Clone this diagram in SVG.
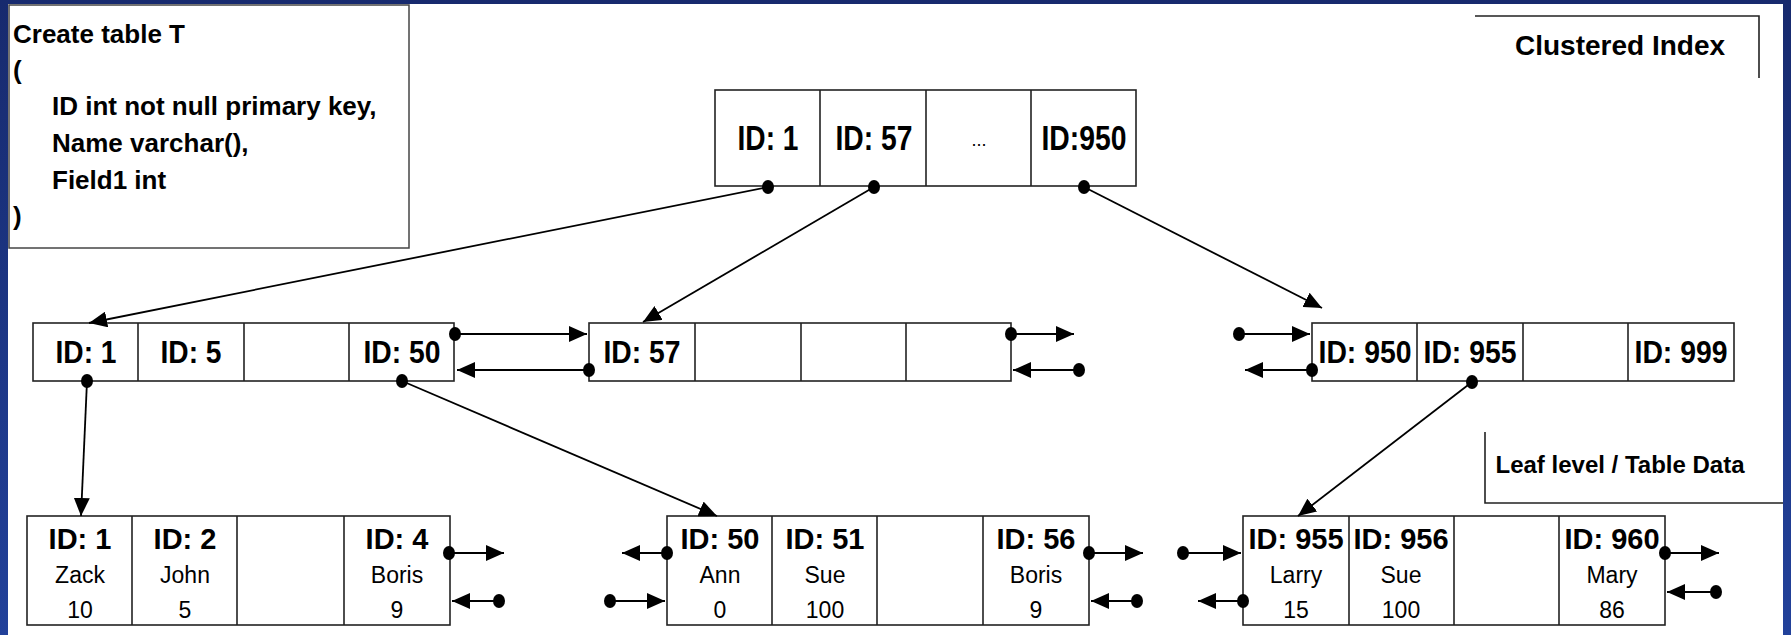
<svg xmlns="http://www.w3.org/2000/svg" width="1791" height="635" viewBox="0 0 1791 635">
<defs>
<linearGradient id="bg" x1="0" y1="0" x2="0" y2="1">
<stop offset="0" stop-color="#172a6e"/>
<stop offset="1" stop-color="#22419a"/>
</linearGradient>
<marker id="arr" markerUnits="userSpaceOnUse" markerWidth="18" markerHeight="16" refX="18" refY="8" orient="auto">
<path d="M0,0 L18,8 L0,16 z" fill="#000"/>
</marker>
<marker id="dot" markerUnits="userSpaceOnUse" markerWidth="14" markerHeight="16" refX="7" refY="8">
<ellipse cx="7" cy="8" rx="6" ry="7" fill="#000"/>
</marker>
</defs>
<style>
.box{fill:#fff;stroke:#222;stroke-width:1.6}
.div{stroke:#222;stroke-width:1.6}
.t{font-family:"Liberation Sans",Arial,sans-serif;fill:#000}
.b{font-weight:bold}
.m{text-anchor:middle}
.r35{font-size:35px;font-weight:bold;text-anchor:middle}
.r32{font-size:32px;font-weight:bold;text-anchor:middle}
.l29{font-size:29px;font-weight:bold;text-anchor:middle}
.v{font-size:23px;text-anchor:middle}
.c{fill:none;stroke:#000;stroke-width:1.8;marker-start:url(#dot);marker-end:url(#arr)}
</style>
<rect x="0" y="0" width="1791" height="635" fill="url(#bg)"/>
<rect x="8" y="4" width="1775" height="631" fill="#fff"/>

<g id="sql">
<rect x="9" y="5" width="400" height="243" fill="#fff" stroke="#444" stroke-width="1.5"/>
<text class="t b" font-size="26" x="13" y="43">Create table T</text>
<text class="t b" font-size="26" x="13" y="79">(</text>
<text class="t b" font-size="26" x="52" y="115">ID int not null primary key,</text>
<text class="t b" font-size="26" x="52" y="152">Name varchar(),</text>
<text class="t b" font-size="26" x="52" y="189">Field1 int</text>
<text class="t b" font-size="26" x="13" y="225">)</text>
</g>

<g id="clustered-label">
<path d="M1475,16 H1759 V78" fill="none" stroke="#222" stroke-width="1.6"/>
<text class="t b m" font-size="28" x="1620" y="55">Clustered Index</text>
</g>

<g id="leaf-label">
<path d="M1485,432 V503 H1783" fill="none" stroke="#222" stroke-width="1.6"/>
<text class="t b m" font-size="24" x="1620" y="473">Leaf level / Table Data</text>
</g>

<g id="root">
<rect class="box" x="715" y="90" width="421" height="96"/>
<path class="div" d="M820,90 V186 M926,90 V186 M1031,90 V186"/>
<text class="t r35" x="768" y="150" textLength="61" lengthAdjust="spacingAndGlyphs">ID: 1</text>
<text class="t r35" x="874" y="150" textLength="77" lengthAdjust="spacingAndGlyphs">ID: 57</text>
<text class="t m" font-size="18" x="979" y="146" fill="#333">...</text>
<text class="t r35" x="1084" y="150" textLength="85" lengthAdjust="spacingAndGlyphs">ID:950</text>
</g>

<g id="index-a">
<rect class="box" x="33" y="323" width="421" height="58"/>
<path class="div" d="M138,323 V381 M244,323 V381 M349,323 V381"/>
<text class="t r32" x="86" y="363" textLength="61" lengthAdjust="spacingAndGlyphs">ID: 1</text>
<text class="t r32" x="191" y="363" textLength="61" lengthAdjust="spacingAndGlyphs">ID: 5</text>
<text class="t r32" x="402" y="363" textLength="77" lengthAdjust="spacingAndGlyphs">ID: 50</text>
</g>

<g id="index-b">
<rect class="box" x="589" y="323" width="422" height="58"/>
<path class="div" d="M695,323 V381 M801,323 V381 M906,323 V381"/>
<text class="t r32" x="642" y="363" textLength="77" lengthAdjust="spacingAndGlyphs">ID: 57</text>
</g>

<g id="index-c">
<rect class="box" x="1312" y="323" width="422" height="58"/>
<path class="div" d="M1417,323 V381 M1523,323 V381 M1628,323 V381"/>
<text class="t r32" x="1365" y="363" textLength="93" lengthAdjust="spacingAndGlyphs">ID: 950</text>
<text class="t r32" x="1470" y="363" textLength="93" lengthAdjust="spacingAndGlyphs">ID: 955</text>
<text class="t r32" x="1681" y="363" textLength="93" lengthAdjust="spacingAndGlyphs">ID: 999</text>
</g>

<g id="leaf-1">
<rect class="box" x="27" y="516" width="423" height="109"/>
<path class="div" d="M132,516 V625 M237,516 V625 M344,516 V625"/>
<text class="t l29" x="80" y="549">ID: 1</text>
<text class="t v" x="80" y="583">Zack</text>
<text class="t v" x="80" y="618">10</text>
<text class="t l29" x="185" y="549">ID: 2</text>
<text class="t v" x="185" y="583">John</text>
<text class="t v" x="185" y="618">5</text>
<text class="t l29" x="397" y="549">ID: 4</text>
<text class="t v" x="397" y="583">Boris</text>
<text class="t v" x="397" y="618">9</text>
</g>

<g id="leaf-2">
<rect class="box" x="667" y="516" width="422" height="109"/>
<path class="div" d="M772,516 V625 M877,516 V625 M983,516 V625"/>
<text class="t l29" x="720" y="549">ID: 50</text>
<text class="t v" x="720" y="583">Ann</text>
<text class="t v" x="720" y="618">0</text>
<text class="t l29" x="825" y="549">ID: 51</text>
<text class="t v" x="825" y="583">Sue</text>
<text class="t v" x="825" y="618">100</text>
<text class="t l29" x="1036" y="549">ID: 56</text>
<text class="t v" x="1036" y="583">Boris</text>
<text class="t v" x="1036" y="618">9</text>
</g>

<g id="leaf-3">
<rect class="box" x="1243" y="516" width="422" height="109"/>
<path class="div" d="M1349,516 V625 M1454,516 V625 M1559,516 V625"/>
<text class="t l29" x="1296" y="549">ID: 955</text>
<text class="t v" x="1296" y="583">Larry</text>
<text class="t v" x="1296" y="618">15</text>
<text class="t l29" x="1401" y="549">ID: 956</text>
<text class="t v" x="1401" y="583">Sue</text>
<text class="t v" x="1401" y="618">100</text>
<text class="t l29" x="1612" y="549">ID: 960</text>
<text class="t v" x="1612" y="583">Mary</text>
<text class="t v" x="1612" y="618">86</text>
</g>

<g id="connectors">
<path class="c" d="M768,187 L89,323"/>
<path class="c" d="M874,187 L643,322"/>
<path class="c" d="M1084,187 L1322,308"/>
<path class="c" d="M87,381 L81,516"/>
<path class="c" d="M402,381 L717,516"/>
<path class="c" d="M1472,382 L1298,516"/>
<path class="c" d="M455,334 L587,334"/>
<path class="c" d="M589,370 L457,370"/>
<path class="c" d="M1011,334 L1074,334"/>
<path class="c" d="M1079,370 L1013,370"/>
<path class="c" d="M1239,334 L1310,334"/>
<path class="c" d="M1312,370 L1245,370"/>
<path class="c" d="M449,553 L504,553"/>
<path class="c" d="M499,601 L452,601"/>
<path class="c" d="M667,553 L622,553"/>
<path class="c" d="M610,601 L665,601"/>
<path class="c" d="M1089,553 L1143,553"/>
<path class="c" d="M1137,601 L1091,601"/>
<path class="c" d="M1183,553 L1241,553"/>
<path class="c" d="M1243,601 L1198,601"/>
<path class="c" d="M1665,553 L1719,553"/>
<path class="c" d="M1716,592 L1667,592"/>
</g>
</svg>
